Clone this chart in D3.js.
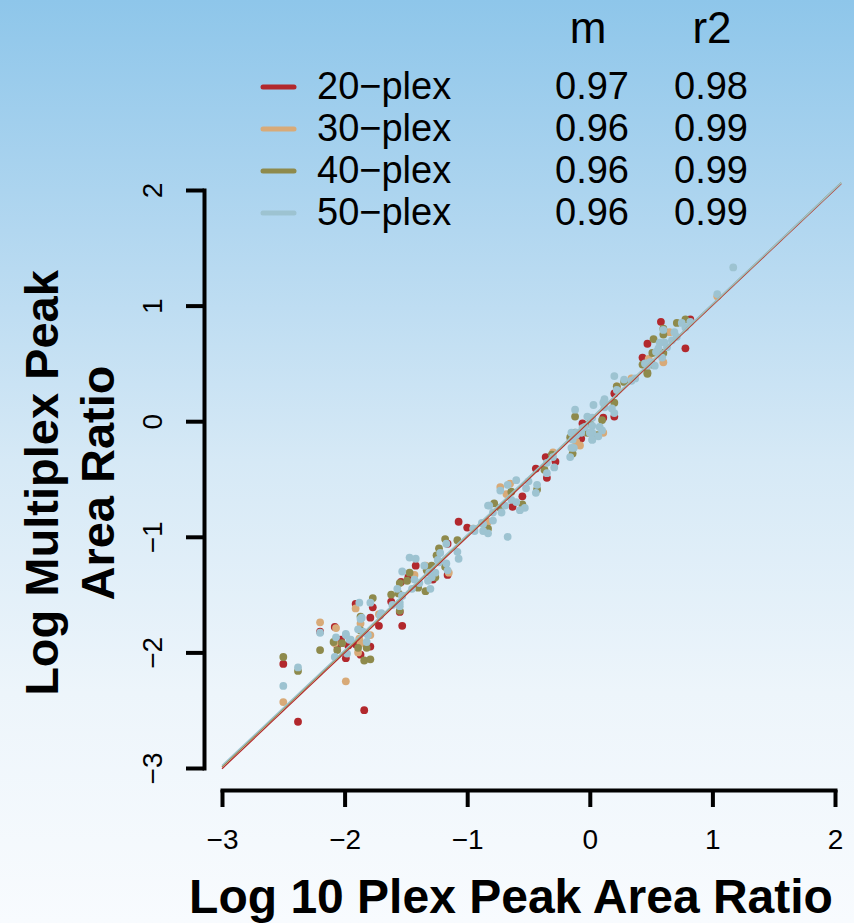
<!doctype html>
<html>
  <head>
    <meta charset="utf-8">
    <script src="https://cdnjs.cloudflare.com/ajax/libs/d3/7.8.5/d3.min.js"></script>
    <style>
      body { margin: 0; }
      svg { display: block; font-family: "Liberation Sans", Arial, sans-serif; }
    </style>
  </head>
  <body>
    <svg id="chart" width="854" height="923"></svg>
    <script>
      // series names, colours and legend numbers
      var seriesNames = ["20\u2212plex", "30\u2212plex", "40\u2212plex", "50\u2212plex"];
      var seriesColors = ["#b2282d", "#d8aa78", "#8e8a4c", "#9dc3d1"];
      var slopeLabels = ["0.97", "0.96", "0.96", "0.96"];
      var r2Labels = ["0.98", "0.99", "0.99", "0.99"];
      var axisTicks = [-3, -2, -1, 0, 1, 2];

      // fitted lines
      var fitSlope = [1.002, 1.0, 1.0, 0.998];
      var fitIntercept = [0.0, 0.01, 0.012, 0.016];

      // points: [log 10-plex ratio, log multiplex ratio]
      var plex20 = [[-1.77,-1.61],[-1.91,-1.58],[-1.62,-1.56],[-2.20,-1.82],[-2.08,-1.78],[-2.50,-2.10],[-2.38,-2.60],[-1.84,-2.50],[-2.06,-1.94],[-2.03,-1.89],[-1.97,-1.94],[-1.99,-2.05],[-1.88,-1.91],[-1.87,-2.02],[-1.79,-1.95],[-1.79,-1.70],[-1.72,-1.77],[-1.53,-1.77],[-1.55,-1.65],[-1.07,-0.87],[-1.00,-0.92],[-1.16,-1.06],[-1.42,-1.25],[-1.16,-1.33],[-1.28,-1.37],[-1.48,-1.35],[-1.54,-1.39],[-1.91,-1.93],[-0.63,-0.74],[-0.55,-0.65],[-0.44,-0.41],[-0.36,-0.31],[-0.28,-0.35],[-0.35,-0.49],[-0.10,-0.15],[0.20,0.24],[0.20,0.04],[-0.06,-0.02],[0.11,0.03],[-0.07,-0.15],[0.58,0.86],[0.82,0.88],[0.47,0.67],[0.78,0.63],[0.43,0.55]];
      var plex30 = [[-1.91,-1.62],[-2.20,-1.74],[-2.07,-1.79],[-1.99,-2.25],[-2.50,-2.43],[-2.08,-1.92],[-1.89,-2.00],[-1.87,-1.92],[-1.79,-1.85],[-1.87,-1.75],[-1.72,-1.67],[-0.95,-0.93],[-0.84,-0.88],[-1.34,-1.25],[-1.15,-1.31],[-1.43,-1.33],[-1.88,-1.88],[-0.83,-0.87],[-0.73,-0.57],[-0.65,-0.54],[-0.68,-0.63],[-0.11,-0.20],[0.11,-0.10],[-0.11,-0.18],[-0.08,-0.21],[1.04,1.08],[0.65,0.77],[0.60,0.51],[0.48,0.54],[0.22,0.30],[-0.30,-0.27],[0.34,0.37]];
      var plex40 = [[-1.77,-1.53],[-1.62,-1.50],[-2.20,-1.98],[-2.50,-2.04],[-2.38,-2.16],[-2.09,-1.91],[-2.06,-1.98],[-2.02,-1.92],[-1.89,-1.96],[-1.82,-1.96],[-1.84,-2.07],[-1.79,-2.06],[-1.87,-1.69],[-1.55,-1.64],[-0.83,-0.93],[-1.18,-1.02],[-1.08,-1.03],[-1.23,-1.10],[-1.25,-1.16],[-1.33,-1.29],[-1.29,-1.25],[-1.18,-1.26],[-1.26,-1.35],[-1.34,-1.47],[-1.47,-1.31],[-1.49,-1.38],[-1.40,-1.44],[-1.55,-1.40],[-1.56,-1.49],[-1.87,-1.81],[-0.78,-0.71],[-0.73,-0.75],[-0.64,-0.61],[-0.55,-0.72],[-0.43,-0.59],[-0.31,-0.29],[-0.37,-0.42],[-0.16,-0.14],[-0.14,-0.28],[-0.02,-0.10],[0.22,0.30],[0.47,0.42],[0.51,0.49],[0.20,0.16],[-0.12,0.04],[0.00,-0.02],[0.10,0.01],[-0.12,-0.10],[0.06,-0.12],[0.71,0.85],[0.78,0.88],[0.60,0.80],[0.60,0.75],[0.52,0.71],[0.60,0.59],[0.51,0.59],[0.43,0.49],[0.47,0.41],[0.28,0.34]];
      var plex50 = [[-1.88,-1.57],[-1.79,-1.57],[-1.53,-1.51],[-2.20,-1.83],[-2.38,-2.13],[-2.50,-2.29],[-2.07,-1.87],[-2.08,-2.04],[-1.99,-1.85],[-1.95,-1.89],[-1.98,-2.01],[-1.89,-1.80],[-1.82,-1.91],[-1.84,-1.83],[-1.87,-1.71],[-1.71,-1.68],[-1.55,-1.57],[-0.94,-0.95],[-0.87,-0.89],[-0.87,-0.95],[-0.83,-0.97],[-0.83,-0.73],[-1.17,-1.06],[-1.08,-1.13],[-1.07,-1.19],[-1.22,-1.14],[-1.24,-1.20],[-1.47,-1.18],[-1.42,-1.19],[-1.35,-1.25],[-1.31,-1.31],[-1.26,-1.31],[-1.23,-1.22],[-1.17,-1.23],[-1.16,-1.29],[-1.29,-1.35],[-1.32,-1.38],[-1.30,-1.45],[-1.53,-1.30],[-1.43,-1.37],[-1.45,-1.45],[-1.39,-1.40],[-1.57,-1.45],[-1.53,-1.51],[-1.55,-1.60],[-1.61,-1.59],[-1.70,-1.66],[-1.86,-1.70],[-1.99,-1.84],[-1.96,-1.89],[-1.81,-1.85],[-1.85,-1.82],[-0.95,-0.93],[-0.88,-0.88],[-0.67,-1.00],[-0.79,-0.86],[-0.82,-0.73],[-0.79,-0.79],[-0.72,-0.79],[-0.69,-0.73],[-0.73,-0.60],[-0.67,-0.55],[-0.60,-0.51],[-0.64,-0.68],[-0.60,-0.70],[-0.53,-0.75],[-0.57,-0.77],[-0.50,-0.52],[-0.52,-0.58],[-0.43,-0.55],[-0.44,-0.62],[-0.35,-0.36],[-0.30,-0.31],[-0.29,-0.40],[-0.35,-0.45],[-0.15,-0.10],[-0.11,-0.10],[-0.13,-0.23],[-0.16,-0.31],[-0.06,-0.06],[0.02,-0.04],[0.02,-0.16],[0.20,0.39],[0.28,0.36],[0.22,0.27],[0.37,0.37],[0.34,0.35],[0.45,0.50],[0.11,0.16],[0.18,0.11],[0.20,0.07],[0.03,0.14],[0.12,0.12],[-0.12,0.10],[-0.02,0.04],[0.02,0.03],[-0.04,-0.05],[0.08,-0.05],[0.10,-0.08],[0.02,-0.10],[0.00,-0.10],[-0.07,-0.10],[-0.11,-0.12],[-0.14,-0.16],[-0.15,-0.23],[0.07,-0.13],[0.02,-0.16],[1.17,1.33],[1.04,1.10],[0.82,0.86],[0.78,0.81],[0.75,0.85],[0.60,0.79],[0.69,0.77],[0.71,0.73],[0.67,0.70],[0.57,0.68],[0.61,0.68],[0.63,0.64],[0.56,0.63],[0.54,0.60],[0.59,0.55],[0.53,0.48],[0.49,0.51],[0.47,0.48],[0.12,0.19]];
      var allSeries = [plex20, plex30, plex40, plex50];

      var svg = d3.select("#chart");

      // background gradient
      var grad = svg.append("defs").append("linearGradient")
          .attr("id", "bg").attr("x1", 0).attr("y1", 0).attr("x2", 0).attr("y2", 1);
      [[0, "#8ec6ea"], [0.25, "#b2d7f0"], [0.5, "#d6e9f6"], [0.75, "#edf5fb"], [1, "#f8fbfe"]].forEach(function(s) {
        grad.append("stop").attr("offset", s[0]).attr("stop-color", s[1]);
      });
      svg.append("rect").attr("width", 854).attr("height", 923).attr("fill", "url(#bg)");

      var x = d3.scaleLinear().domain([-3, 2]).range([222, 835]);
      var y = d3.scaleLinear().domain([-3, 2]).range([768, 190]);

      // points, drawn series by series so 50-plex ends on top
      allSeries.forEach(function(pts, i) {
        svg.append("g").selectAll("circle")
          .data(pts)
          .enter()
          .append("circle")
          .attr("cx", function(d) { return x(d[0]); })
          .attr("cy", function(d) { return y(d[1]); })
          .attr("r", 3.9)
          .attr("fill", seriesColors[i]);
      });

      // fit lines
      var lineX = [-3, 2.05];
      fitSlope.forEach(function(m, i) {
        svg.append("line")
          .attr("x1", x(lineX[0])).attr("y1", y(m * lineX[0] + fitIntercept[i]))
          .attr("x2", x(lineX[1])).attr("y2", y(m * lineX[1] + fitIntercept[i]))
          .attr("stroke", seriesColors[i])
          .attr("stroke-width", 1.3);
      });

      // axes
      var fmt = d3.format("d");
      var xAxis = d3.axisBottom(x).tickValues(axisTicks).tickFormat(fmt).tickSize(17).tickSizeOuter(0).tickPadding(22);
      var gx = svg.append("g").attr("transform", "translate(0,790)").call(xAxis);
      var yAxis = d3.axisLeft(y).tickValues(axisTicks).tickFormat(fmt).tickSize(18).tickSizeOuter(0);
      var gy = svg.append("g").attr("transform", "translate(204,0)").call(yAxis);

      [gx, gy].forEach(function(g) {
        g.select(".domain").attr("stroke", "#000").attr("stroke-width", 4).attr("stroke-linecap", "square");
        g.selectAll(".tick line").attr("stroke", "#000").attr("stroke-width", 4);
        g.selectAll(".tick text")
          .attr("fill", "#000")
          .style("font-size", "28px")
          .style("font-family", "Liberation Sans, Arial, sans-serif");
      });
      gy.selectAll(".tick text")
        .attr("transform", "rotate(-90)")
        .attr("x", 0).attr("y", -42).attr("dy", 0)
        .attr("text-anchor", "middle");

      // axis titles
      svg.append("text")
        .attr("x", 511).attr("y", 913)
        .attr("text-anchor", "middle")
        .style("font-size", "48px").style("font-weight", "bold")
        .text("Log 10 Plex Peak Area Ratio");
      var yTitle = svg.append("text")
        .attr("transform", "translate(0,483) rotate(-90)")
        .attr("text-anchor", "middle")
        .style("font-size", "47px").style("font-weight", "bold");
      yTitle.append("tspan").attr("x", 0).attr("y", 58).text("Log Multiplex Peak");
      yTitle.append("tspan").attr("x", 0).attr("y", 114).text("Area Ratio");

      // legend
      var leg = svg.append("g").style("font-size", "38px");
      leg.append("text").attr("x", 588).attr("y", 43).attr("text-anchor", "middle").style("font-size", "44px").text("m");
      leg.append("text").attr("x", 712).attr("y", 43).attr("text-anchor", "middle").style("font-size", "44px").text("r2");
      seriesNames.forEach(function(name, i) {
        var yy = 87 + i * 42;
        leg.append("line")
          .attr("x1", 263).attr("x2", 294).attr("y1", yy).attr("y2", yy)
          .attr("stroke", seriesColors[i]).attr("stroke-width", 5).attr("stroke-linecap", "round");
        leg.append("text").attr("x", 317).attr("y", yy + 12).text(name);
        leg.append("text").attr("x", 592).attr("y", yy + 12).attr("text-anchor", "middle").text(slopeLabels[i]);
        leg.append("text").attr("x", 711).attr("y", yy + 12).attr("text-anchor", "middle").text(r2Labels[i]);
      });
    </script>
  </body>
</html>
